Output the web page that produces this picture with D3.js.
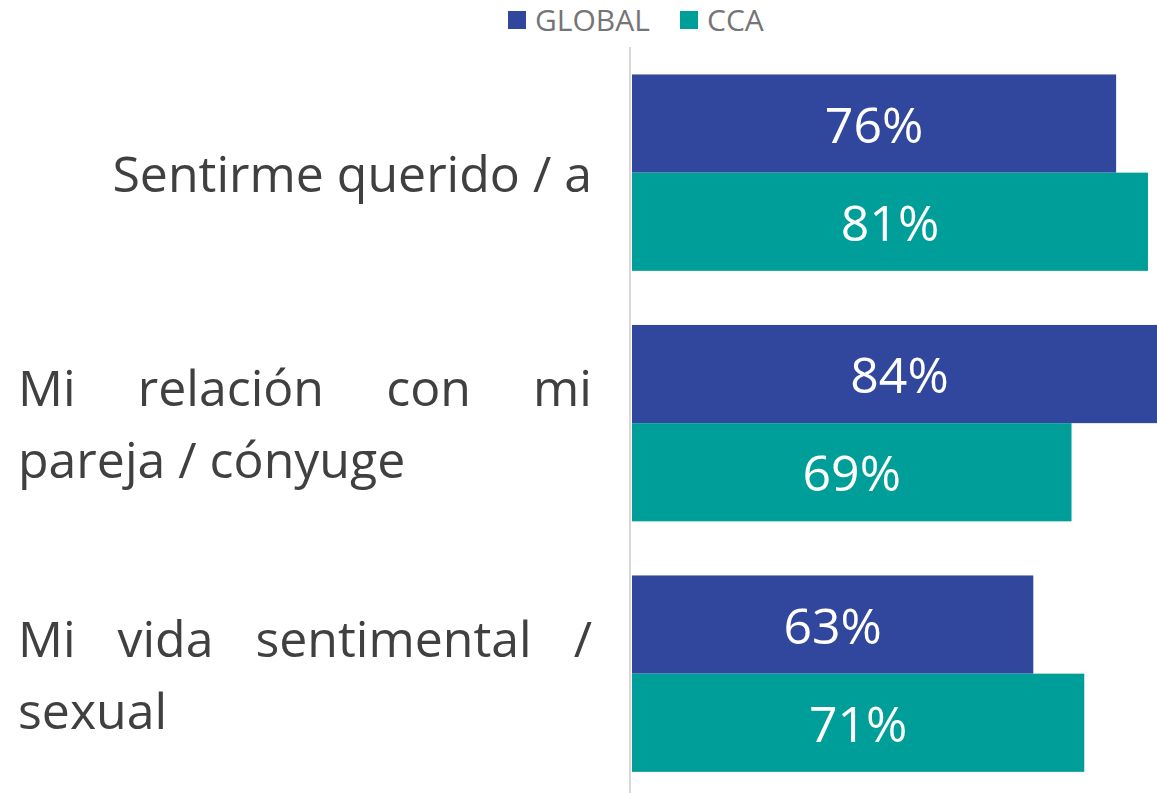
<!DOCTYPE html>
<html>
<head>
<meta charset="utf-8">
<script src="https://cdn.jsdelivr.net/npm/d3@7"></script>
<style>
  html, body { margin: 0; padding: 0; background: #fff; overflow: hidden; }
  svg { display: block; font-family: "Open Sans", "Noto Sans", sans-serif; }
</style>
</head>
<body>
<div id="chart"></div>
<script>
var categories = ["Sentirme querido / a", "Mi relación con mi pareja / cónyuge", "Mi vida sentimental / sexual"];
// each label as it is broken into lines in the picture
var labelLines = [
  ["Sentirme querido / a"],
  ["Mi relación con mi", "pareja / cónyuge"],
  ["Mi vida sentimental /", "sexual"]
];
var series = ["GLOBAL", "CCA"];
var globalValues = [76, 84, 63];
var ccaValues = [81, 69, 71];
var colors = ["#31479d", "#009e99"];

var width = 1157, height = 793;

var svg = d3.select("#chart").append("svg")
  .attr("width", width)
  .attr("height", height);

var x = d3.scaleLinear()
  .domain([0, 100])
  .range([632, 632 + 637]);

var y = d3.scaleBand()
  .domain(categories)
  .range([47.4, 798.9])
  .paddingInner(0.216)
  .paddingOuter(0.108);

var ySub = d3.scaleBand()
  .domain(series)
  .range([0, y.bandwidth()]);

var color = d3.scaleOrdinal().domain(series).range(colors);

var rows = categories.map(function (c, i) {
  return { cat: c, lines: labelLines[i], values: [globalValues[i], ccaValues[i]] };
});

// axis line
svg.append("line")
  .attr("x1", 630).attr("x2", 630)
  .attr("y1", 47).attr("y2", height)
  .attr("stroke", "#d9d9d9")
  .attr("stroke-width", 2);

var g = svg.selectAll(".group")
  .data(rows)
  .enter().append("g")
  .attr("class", "group")
  .attr("transform", function (d) { return "translate(0," + y(d.cat) + ")"; });

g.selectAll("rect")
  .data(function (d) { return d.values.map(function (v, j) { return { s: series[j], v: v }; }); })
  .enter().append("rect")
  .attr("x", x(0))
  .attr("y", function (d) { return ySub(d.s); })
  .attr("width", function (d) { return x(d.v) - x(0); })
  .attr("height", ySub.bandwidth())
  .attr("fill", function (d) { return color(d.s); });

g.selectAll(".val")
  .data(function (d) { return d.values.map(function (v, j) { return { s: series[j], v: v }; }); })
  .enter().append("text")
  .attr("class", "val")
  .attr("x", function (d) { return (x(0) + x(d.v)) / 2; })
  .attr("y", function (d) { return ySub(d.s) + ySub.bandwidth() / 2 + 19; })
  .attr("text-anchor", "middle")
  .attr("fill", "#fff")
  .style("font-size", "50px")
  .text(function (d) { return d.v + "%"; });

// category labels, justified between these edges like the original
var textLeft = 18, textRight = 592, lineGap = 72;

g.each(function (d) {
  var grp = d3.select(this);
  var mid = y.bandwidth() / 2;
  var n = d.lines.length;
  d.lines.forEach(function (line, li) {
    var base = mid + 19 - (n - 1) * lineGap / 2 + li * lineGap;
    var t = grp.append("text")
      .attr("y", base)
      .attr("fill", "#404040")
      .style("font-size", "50px");
    if (n === 1) {
      t.attr("x", textRight).attr("text-anchor", "end").text(line);
    } else if (li < n - 1) {
      // justified line: spread words across full width
      var words = line.split(" ");
      var spans = words.map(function (w) {
        return t.append("tspan").text(w);
      });
      var widths = spans.map(function (s) { return s.node().getComputedTextLength(); });
      var total = d3.sum(widths);
      var gap = (textRight - textLeft - total) / (words.length - 1);
      var cx = textLeft;
      spans.forEach(function (s, k) {
        s.attr("x", cx);
        cx += widths[k] + gap;
      });
    } else {
      t.attr("x", textLeft).text(line);
    }
  });
});

// legend
var legend = svg.append("g");
var legX = [508, 680];
series.forEach(function (s, i) {
  legend.append("rect")
    .attr("x", legX[i]).attr("y", 11)
    .attr("width", 18).attr("height", 18)
    .attr("fill", color(s));
  legend.append("text")
    .attr("x", legX[i] + 27).attr("y", 31)
    .attr("fill", "#757575")
    .style("font-size", "30px")
    .text(s);
});
</script>
</body>
</html>
